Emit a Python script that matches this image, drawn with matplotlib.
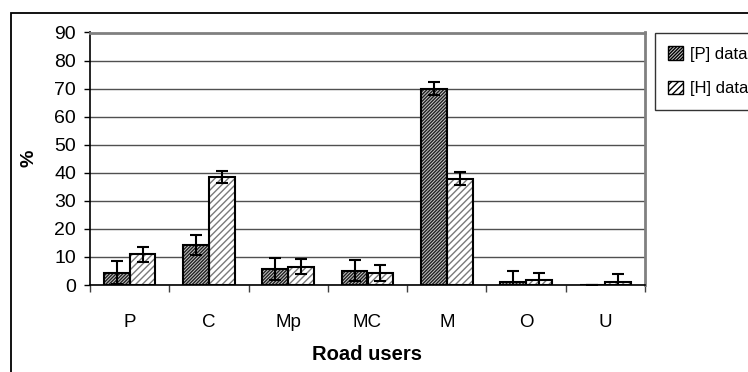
import numpy as np
import matplotlib
matplotlib.use("Agg")
import matplotlib.pyplot as plt
from matplotlib.patches import Rectangle, Patch

# data
categories = ["P", "C", "Mp", "MC", "M", "O", "U"]
p_data = [4.4, 14.3, 5.8, 5.1, 70.0, 1.1, 0.0]
p_err = [4.0, 3.6, 3.9, 3.8, 2.2, 4.0, 0.0]
h_data = [10.9, 38.6, 6.5, 4.4, 37.9, 1.8, 0.9]
h_err = [2.7, 2.1, 2.7, 2.8, 2.4, 2.6, 2.9]

plt.rcParams['font.family'] = ['Liberation Sans', 'DejaVu Sans']
plt.rcParams['hatch.linewidth'] = 1.0

fig = plt.figure(figsize=(7.48, 3.72), dpi=100)
ax = fig.add_axes([90/748, 1 - 285/372, (645 - 90)/748, (285 - 32.5)/372])

x = np.arange(len(categories))
w = 0.325

# hatch layer (edge colour drives the hatch colour), then black outline layer
ax.bar(x - w/2, p_data, w, color='#c8c8c8', edgecolor='#202020', hatch='//////////', linewidth=0, zorder=2)
ax.bar(x + w/2, h_data, w, color='white', edgecolor='#7a7a7a', hatch='/////', linewidth=0, zorder=2)
ax.bar(x - w/2, p_data, w, fill=False, edgecolor='black', linewidth=1.5, zorder=3)
ax.bar(x + w/2, h_data, w, fill=False, edgecolor='black', linewidth=1.5, zorder=3)

ax.errorbar(x - w/2, p_data, yerr=p_err, fmt='none', ecolor='black', elinewidth=1.5, capsize=4.5, capthick=1.5, zorder=4)
ax.errorbar(x + w/2, h_data, yerr=h_err, fmt='none', ecolor='black', elinewidth=1.5, capsize=4.5, capthick=1.5, zorder=4)

ax.set_xlim(-0.5, len(categories) - 0.5)
ax.set_ylim(0, 90)
ax.set_yticks(np.arange(0, 91, 10))
ax.yaxis.grid(True, color='#505050', linewidth=1.0)
ax.set_axisbelow(True)

# category boundaries get tick marks, labels sit in between
ax.set_xticks(np.arange(-0.5, len(categories)), labels=[''] * (len(categories) + 1))
ax.set_xticks(x, labels=categories, minor=True)
ax.tick_params(axis='x', which='major', length=5, width=1, color='#404040', direction='out')
ax.tick_params(axis='x', which='minor', length=0, pad=21, labelsize=13.5)
ax.tick_params(axis='y', length=4, width=1, labelsize=14, pad=6)

for s in ['left', 'bottom']:
    ax.spines[s].set_color('black')
    ax.spines[s].set_linewidth(1.2)
for s in ['top', 'right']:
    ax.spines[s].set_color('#808080')
    ax.spines[s].set_linewidth(2)

ax.set_ylabel('%', fontsize=14, fontweight='bold', labelpad=12)
ax.set_xlabel('Road users', fontsize=14.5, fontweight='bold', labelpad=10)

handles = [Patch(facecolor='#c8c8c8', edgecolor='black', hatch='//////////', linewidth=1),
           Patch(facecolor='white', edgecolor='black', hatch='/////', linewidth=1)]
leg = fig.legend(handles, ['[P] data', '[H] data'], loc='upper left',
                 bbox_to_anchor=(655/748, 1 - 33/372), frameon=True, fancybox=False,
                 handlelength=0.85, handleheight=0.85, handletextpad=0.45,
                 labelspacing=1.15, borderpad=0.8, borderaxespad=0,
                 prop={'size': 12})
leg.get_frame().set_edgecolor('black')
leg.get_frame().set_linewidth(1.0)

# outer chart frame, running off the right and bottom edges
fig.patches.append(Rectangle((11/748, -0.2), 2, (372 - 13)/372 + 0.2, transform=fig.transFigure,
                             fill=False, edgecolor='black', linewidth=1.3))

fig.savefig('out.png', dpi=100)
